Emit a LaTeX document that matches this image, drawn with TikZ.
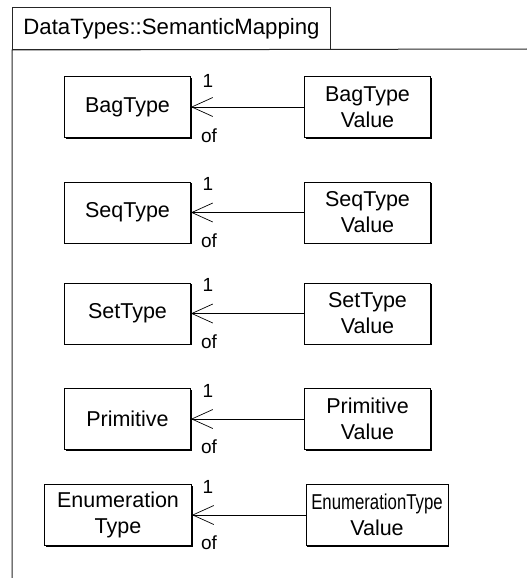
\documentclass[tikz,border=0pt]{standalone}
\usepackage{fontspec}
\setmainfont{Liberation Sans}
\usetikzlibrary{positioning,arrows.meta,shadows}

\begin{document}
\begin{tikzpicture}[x=1pt,y=1pt,
    frame/.style={draw=black!85, line width=1pt},
    cls/.style={draw, fill=white, line width=0.9pt, align=center,
      minimum width=126pt, minimum height=61pt, inner sep=2pt,
      font=\fontsize{21.5}{26}\selectfont,
      drop shadow={shadow xshift=1.2pt, shadow yshift=-1.2pt, fill=black, opacity=1}},
    assoc/.style={line width=0.7pt, -{Straight Barb[length=21pt, width=19pt, line width=0.7pt]}},
    mult/.style={font=\fontsize{19}{21}\selectfont, anchor=base, inner sep=0pt}
  ]
  \useasboundingbox (0,0) rectangle (527,-578);

  % package frame
  \node[frame, minimum width=318pt, minimum height=42pt, anchor=north west,
    font=\fontsize{22.2}{26}\selectfont] (pkg) at (12,-7) {DataTypes::SemanticMapping};
  \draw[frame] (12,-578) -- (pkg.south west) -- (527,-49);

  % classes
  \node[cls] (bag) at (127.5,-107) {BagType};
  \node[cls] (bagv) at (367.5,-107) {BagType\\Value};
  \node[cls] (seq) at (127.5,-212.5) {SeqType};
  \node[cls] (seqv) at (367.5,-212.5) {SeqType\\Value};
  \node[cls] (set) at (127.5,-313.5) {SetType};
  \node[cls] (setv) at (367.5,-313.5) {SetType\\Value};
  \node[cls] (prim) at (127.5,-419) {Primitive};
  \node[cls] (primv) at (367.5,-419) {Primitive\\Value};
  \node[cls, minimum width=147pt] (enum) at (118,-515) {Enumeration\\Type};
  \node[cls, minimum width=142pt] (enumv) at (377,-515) {\scalebox{0.78}[1]{EnumerationType}\\Value};

  % associations
  \draw[assoc] (bagv) -- (bag);
  \draw[assoc] (seqv) -- (seq);
  \draw[assoc] (setv) -- (set);
  \draw[assoc] (primv) -- (prim);
  \draw[assoc] (enumv) -- (enum);

  % ends
  \node[mult] (bag1) at (208,-87) {1};
  \node[mult] (bagof) at (209,-142) {of};
  \node[mult] (seq1) at (208,-190) {1};
  \node[mult] (seqof) at (209,-247) {of};
  \node[mult] (set1) at (208,-291) {1};
  \node[mult] (setof) at (209,-348) {of};
  \node[mult] (prim1) at (208,-397) {1};
  \node[mult] (primof) at (209,-453) {of};
  \node[mult] (enum1) at (208,-493) {1};
  \node[mult] (enumof) at (209,-549) {of};

\end{tikzpicture}
\end{document}
